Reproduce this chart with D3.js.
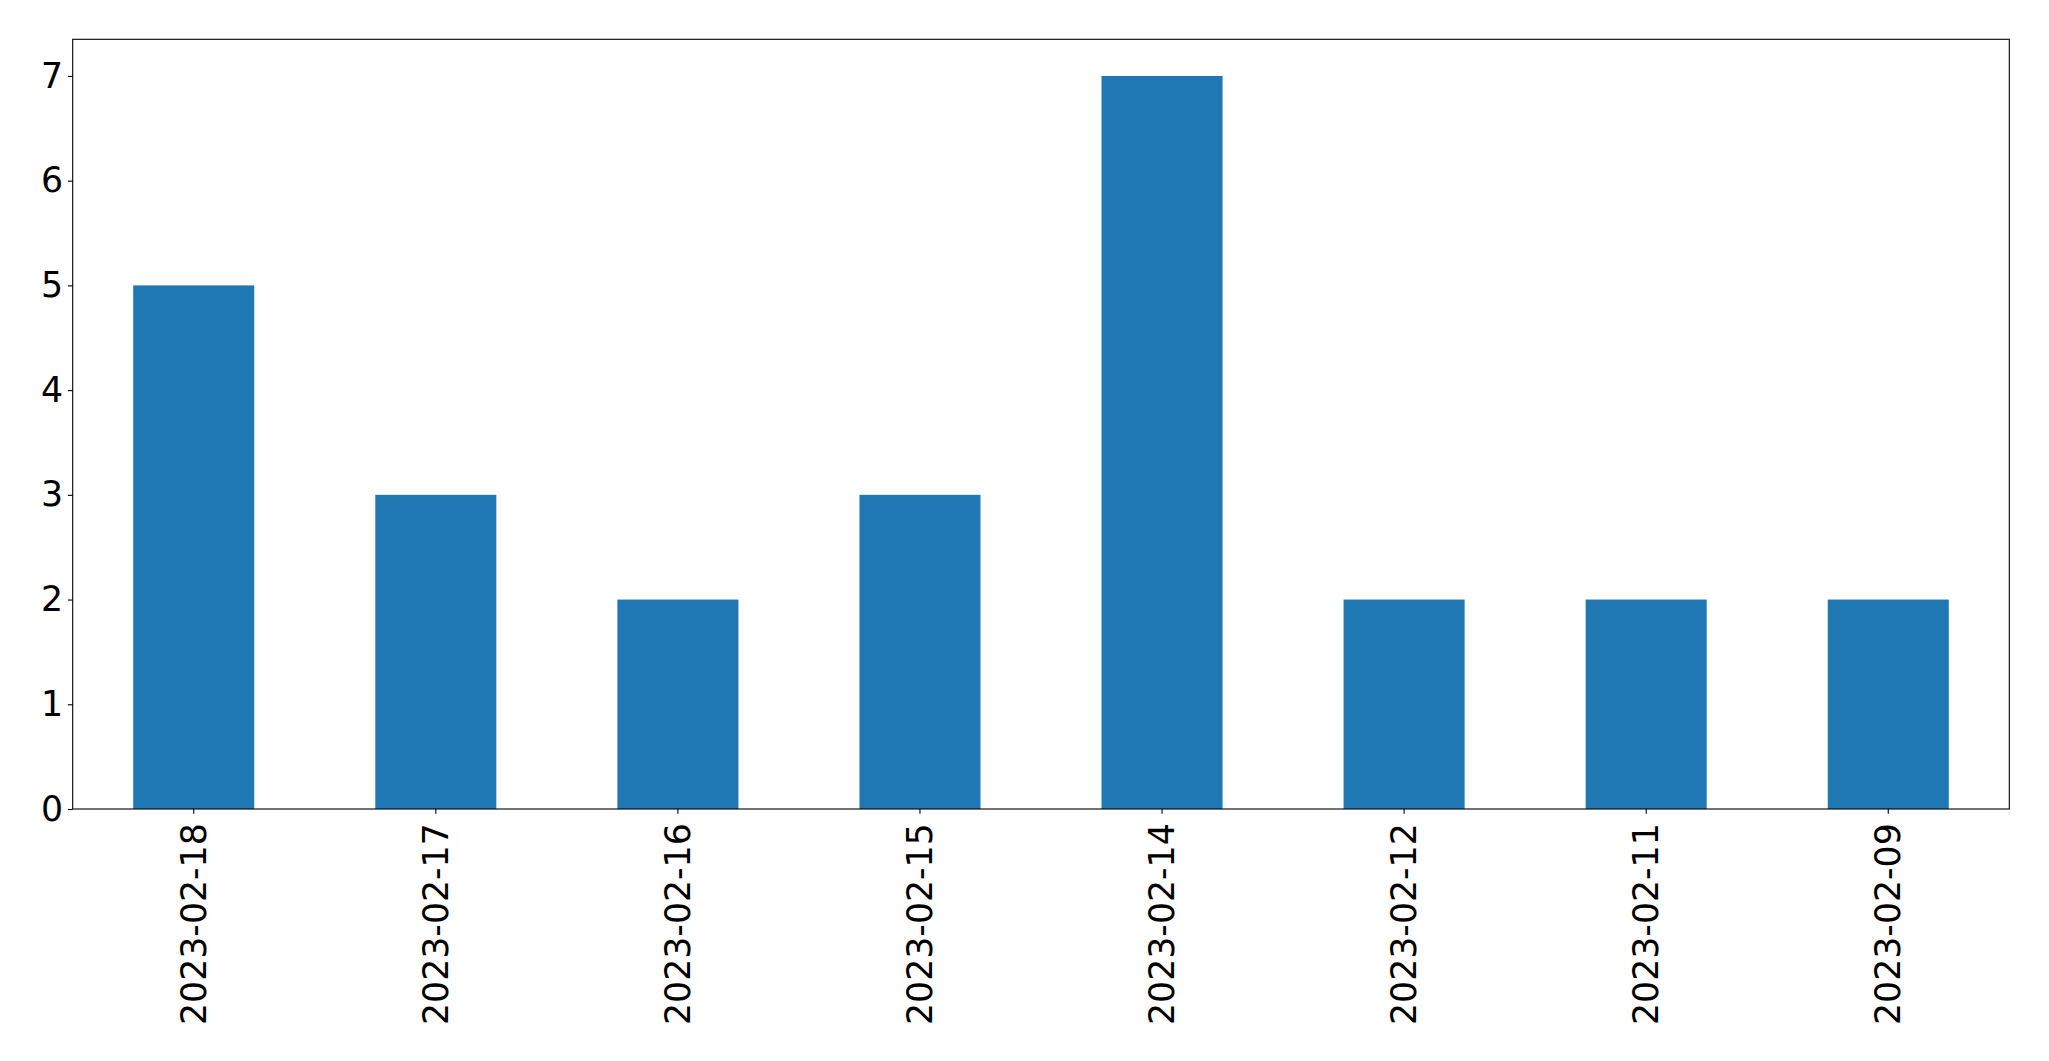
<!DOCTYPE html>
<html><head><meta charset="utf-8">
<script src="https://cdn.jsdelivr.net/npm/d3@7"></script>
<style>html,body{margin:0;padding:0;background:#fff;}svg{display:block;}</style>
</head><body>
<script>
const categories = ["2023-02-18","2023-02-17","2023-02-16","2023-02-15","2023-02-14","2023-02-12","2023-02-11","2023-02-09"];
const values = [5,3,2,3,7,2,2,2];
const yTicks = [0,1,2,3,4,5,6,7];

(function(){
const W = 2049, H = 1061;
const mLeft = 72.7, mRight = 2009.3, mTop = 39.3, mBottom = 809;
const fs = 34.72;
const tickLen = 4.86, pad = 4.86;

const svg = d3.select("body").append("svg").attr("width", W).attr("height", H);

const x = d3.scaleBand().domain(categories).range([mLeft, mRight]).paddingInner(0.5).paddingOuter(0.25);
const y = d3.scaleLinear().domain([0, 7.35]).range([mBottom, mTop]);

svg.append("g").selectAll("rect").data(values).join("rect")
  .attr("x", (d,i) => x(categories[i]))
  .attr("width", x.bandwidth())
  .attr("y", d => y(d))
  .attr("height", d => y(0) - y(d))
  .attr("fill", "#1f77b4");

const yAxis = svg.append("g").attr("transform", `translate(${mLeft},0)`)
  .call(d3.axisLeft(y).tickValues(yTicks).tickFormat(d3.format("d")).tickSize(tickLen).tickPadding(pad));
yAxis.select(".domain").remove();
yAxis.selectAll("text").attr("font-family", "DejaVu Sans").attr("font-size", fs).attr("fill", "#000");
yAxis.selectAll("line").attr("stroke", "#000").attr("stroke-width", 1.1);

const xAxis = svg.append("g").attr("transform", `translate(0,${mBottom})`)
  .call(d3.axisBottom(x).tickSize(tickLen).tickPadding(pad));
xAxis.select(".domain").remove();
xAxis.selectAll("line").attr("stroke", "#000").attr("stroke-width", 1.1);
xAxis.selectAll("text")
  .attr("font-family", "DejaVu Sans").attr("font-size", fs).attr("fill", "#000")
  .attr("x", 0).attr("y", 0).attr("dy", null)
  .attr("text-anchor", "end")
  .attr("dominant-baseline", "central")
  .attr("transform", `translate(0,${tickLen + pad + 4.5}) rotate(-90)`);

svg.append("rect").attr("x", mLeft).attr("y", mTop).attr("width", mRight - mLeft).attr("height", mBottom - mTop)
  .attr("fill", "none").attr("stroke", "#000").attr("stroke-width", 1.1);
})();
</script>
</body></html>
